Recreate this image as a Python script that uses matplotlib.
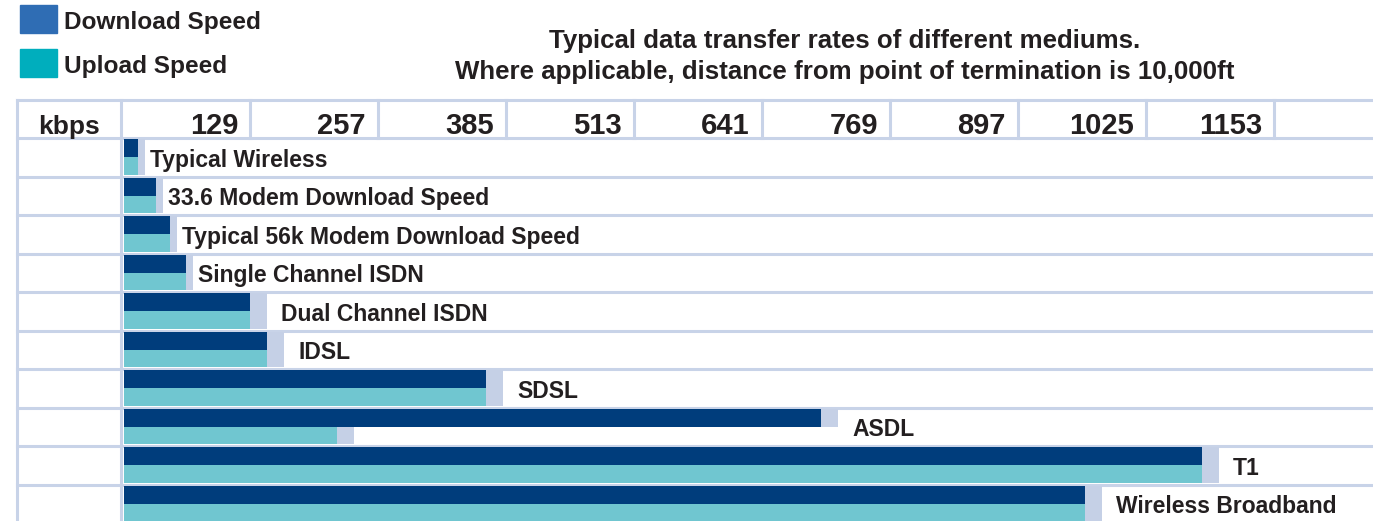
import matplotlib.pyplot as plt
from matplotlib.patches import Rectangle

# Data (kbps)
mediums = ["Typical Wireless", "33.6 Modem Download Speed", "Typical 56k Modem Download Speed",
           "Single Channel ISDN", "Dual Channel ISDN", "IDSL", "SDSL", "ASDL", "T1",
           "Wireless Broadband"]
download = [14, 32, 46, 62, 126, 143, 362, 697, 1078, 961]
upload = [14, 32, 46, 62, 126, 143, 362, 213, 1078, 961]
ticks = [129, 257, 385, 513, 641, 769, 897, 1025, 1153]

dark = "#003d7c"
teal = "#70c6d0"
shadow = "#c5d0e6"
grid = "#c8d3e8"
txt = "#231f20"
W, H = 1373, 521
x0 = 3  # bars start just right of the column line

plt.rcParams['font.family'] = ['Liberation Sans', 'DejaVu Sans']
plt.rcParams['font.weight'] = 'bold'

fig = plt.figure(figsize=(W / 100, H / 100), dpi=100)
ax = fig.add_axes([0, 0, 1, 1])
ax.axis("off")
# x in kbps (about 1 px per kbps), y in table rows, header row at -1
ax.set_xlim(-121, W - 121)
ax.set_ylim(9.5 - 2 / 38.5, -1.5 - 99.5 / 38.5)
ytop = -1.5 - 99.5 / 38.5

# table grid
lw = 2.2
for k in range(12):
    ax.plot([-104, W], [k - 1.5, k - 1.5], color=grid, lw=lw, zorder=1)
for xv in [-104, 0]:
    ax.plot([xv, xv], [-1.5, 9.6], color=grid, lw=lw, zorder=1)
for t in ticks:
    ax.plot([t, t], [-1.5, -0.5], color=grid, lw=lw, zorder=1)

# header
ax.text(-52, -0.6, "kbps", ha="center", va="baseline", fontsize=19, color=txt)
for t in ticks:
    ax.text(t - 12, -0.6, str(t), ha="right", va="baseline", fontsize=21, color=txt)

# bars with a flat shadow on the right
rows = list(range(len(mediums)))
hd, hu = 0.47, 0.46
for i in rows:
    short = max(download[i], upload[i]) < 100
    sw = 7 if short else 17
    ax.barh(i - hd, sw, height=hd, left=x0 + download[i], align="edge", color=shadow, zorder=2)
    ax.barh(i, sw, height=hu, left=x0 + upload[i], align="edge", color=shadow, zorder=2)
ax.barh([i - hd for i in rows], download, height=hd, left=x0, align="edge", color=dark, zorder=3)
ax.barh(rows, upload, height=hu, left=x0, align="edge", color=teal, zorder=3)

for i in rows:
    short = max(download[i], upload[i]) < 100
    off = 12 if short else 31
    ax.text(x0 + max(download[i], upload[i]) + off, i + 0.25, mediums[i], ha="left",
            va="baseline", fontsize=16.5, color=txt, zorder=4)

# title
ax.text(724, ytop + 48 / 38.5, "Typical data transfer rates of different mediums.",
        ha="center", va="baseline", fontsize=18.6, color=txt)
ax.text(724, ytop + 79 / 38.5, "Where applicable, distance from point of termination is 10,000ft",
        ha="center", va="baseline", fontsize=18.6, color=txt)

# legend
def px(x, y):
    return x / W, 1 - y / H

for (y0, col, lab) in [(5, "#2f6db4", "Download Speed"), (49, "#00aebd", "Upload Speed")]:
    fig.add_artist(Rectangle(px(20, y0 + 28), 37 / W, 28 / H, transform=fig.transFigure,
                             color=col))
    fx, fy = px(64, y0 + 24)
    fig.text(fx, fy, lab, ha="left", va="baseline", fontsize=17.6, color=txt)

fig.savefig("out.png", dpi=100)
